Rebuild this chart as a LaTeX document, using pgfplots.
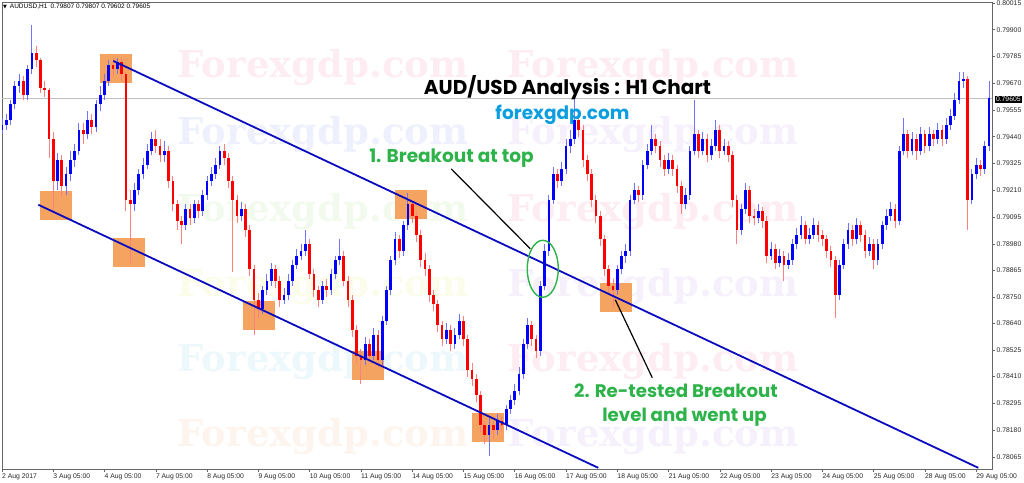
\documentclass[border=0pt]{standalone}
\usepackage{pgfplots}
\pgfplotsset{compat=1.18}
\usepackage{pgfplotstable}
\usepackage{fontspec}
\setmainfont{Liberation Sans}
\newfontfamily\popp{Poppins}
\newfontfamily\wm{DejaVu Serif}
\newfontfamily\dejavu{DejaVu Sans}
\definecolor{cblue}{RGB}{0,0,255}
\definecolor{cred}{RGB}{255,0,0}
\definecolor{tline}{RGB}{10,10,190}
\definecolor{boxc}{RGB}{244,164,96}
\definecolor{tgreen}{RGB}{45,179,74}
\definecolor{tcyan}{RGB}{12,158,222}
\definecolor{wpink}{RGB}{253,237,242}
\definecolor{wblue}{RGB}{238,241,253}
\definecolor{wgreen}{RGB}{242,250,237}
\definecolor{wyellow}{RGB}{252,252,235}
\definecolor{wcyan}{RGB}{236,248,252}
\definecolor{wpeach}{RGB}{253,244,237}
\definecolor{wlav}{RGB}{246,240,252}

\pgfplotstableread{
k o h l c
0 0.7947 0.7952 0.7945 0.7949
1 0.7949 0.7954 0.7947 0.7951
2 0.7951 0.7960 0.7949 0.7958
3 0.7958 0.7968 0.7956 0.7966
4 0.7966 0.7971 0.7963 0.7968
5 0.7968 0.7970 0.7960 0.7962
6 0.7962 0.7975 0.7960 0.7973
7 0.7973 0.7992 0.7971 0.7980
8 0.7980 0.7983 0.7974 0.7977
9 0.7977 0.7978 0.7963 0.7965
10 0.7965 0.7968 0.7961 0.7964
11 0.7964 0.7965 0.7935 0.7943
12 0.7943 0.7946 0.7912 0.7925
13 0.7925 0.7937 0.7921 0.7934
14 0.7934 0.7936 0.7918 0.7923
15 0.7923 0.7931 0.7919 0.7928
16 0.7928 0.7938 0.7925 0.7934
17 0.7934 0.7941 0.7931 0.7938
18 0.7938 0.7950 0.7936 0.7947
19 0.7947 0.7950 0.7941 0.7945
20 0.7945 0.7955 0.7943 0.7951
21 0.7951 0.7954 0.7945 0.7948
22 0.7948 0.7960 0.7946 0.7958
23 0.7958 0.7966 0.7955 0.7962
24 0.7962 0.7971 0.7960 0.7968
25 0.7968 0.7977 0.7966 0.7975
26 0.7975 0.7978 0.7970 0.7973
27 0.7973 0.7978 0.7971 0.7976
28 0.7976 0.7978 0.7968 0.7971
29 0.7971 0.7972 0.7912 0.7917
30 0.7917 0.7921 0.7890 0.7915
31 0.7915 0.7924 0.7912 0.7921
32 0.7921 0.7930 0.7919 0.7928
33 0.7928 0.7935 0.7926 0.7932
34 0.7932 0.7941 0.7930 0.7938
35 0.7938 0.7946 0.7936 0.7943
36 0.7943 0.7947 0.7937 0.7940
37 0.7940 0.7943 0.7933 0.7936
38 0.7936 0.7942 0.7933 0.7938
39 0.7938 0.7940 0.7922 0.7925
40 0.7925 0.7927 0.7912 0.7915
41 0.7915 0.7917 0.7904 0.7908
42 0.7908 0.7910 0.7898 0.7906
43 0.7906 0.7915 0.7904 0.7913
44 0.7913 0.7915 0.7906 0.7909
45 0.7909 0.7917 0.7907 0.7915
46 0.7915 0.7917 0.7909 0.7912
47 0.7912 0.7921 0.7910 0.7919
48 0.7919 0.7927 0.7917 0.7925
49 0.7925 0.7931 0.7923 0.7928
50 0.7928 0.7935 0.7926 0.7932
51 0.7932 0.7940 0.7930 0.7938
52 0.7938 0.7941 0.7932 0.7935
53 0.7935 0.7937 0.7922 0.7925
54 0.7925 0.7927 0.7886 0.7917
55 0.7917 0.7919 0.7907 0.7910
56 0.7910 0.7916 0.7908 0.7913
57 0.7913 0.7915 0.7901 0.7904
58 0.7904 0.7906 0.7884 0.7887
59 0.7887 0.7889 0.7859 0.7874
60 0.7874 0.7877 0.7866 0.7870
61 0.7870 0.7880 0.7868 0.7878
62 0.7878 0.7885 0.7876 0.7882
63 0.7882 0.7890 0.7880 0.7887
64 0.7887 0.7889 0.7879 0.7882
65 0.7882 0.7884 0.7871 0.7874
66 0.7874 0.7879 0.7872 0.7876
67 0.7876 0.7885 0.7874 0.7882
68 0.7882 0.7891 0.7880 0.7889
69 0.7889 0.7896 0.7887 0.7893
70 0.7893 0.7898 0.7891 0.7895
71 0.7895 0.7904 0.7893 0.7898
72 0.7898 0.7900 0.7883 0.7885
73 0.7885 0.7887 0.7875 0.7878
74 0.7878 0.7880 0.7871 0.7874
75 0.7874 0.7882 0.7872 0.7880
76 0.7880 0.7883 0.7875 0.7878
77 0.7878 0.7887 0.7876 0.7885
78 0.7885 0.7893 0.7883 0.7891
79 0.7891 0.7900 0.7889 0.7893
80 0.7893 0.7895 0.7880 0.7882
81 0.7882 0.7884 0.7871 0.7874
82 0.7874 0.7876 0.7858 0.7861
83 0.7861 0.7863 0.7847 0.7850
84 0.7850 0.7853 0.7838 0.7848
85 0.7848 0.7858 0.7846 0.7855
86 0.7855 0.7857 0.7847 0.7850
87 0.7850 0.7862 0.7848 0.7859
88 0.7859 0.7861 0.7845 0.7848
89 0.7848 0.7867 0.7846 0.7865
90 0.7865 0.7880 0.7863 0.7878
91 0.7878 0.7893 0.7876 0.7891
92 0.7891 0.7903 0.7889 0.7900
93 0.7900 0.7902 0.7892 0.7895
94 0.7895 0.7908 0.7893 0.7906
95 0.7906 0.7920 0.7904 0.7915
96 0.7915 0.7917 0.7907 0.7910
97 0.7910 0.7912 0.7899 0.7902
98 0.7902 0.7904 0.7888 0.7891
99 0.7891 0.7894 0.7884 0.7887
100 0.7887 0.7889 0.7873 0.7876
101 0.7876 0.7878 0.7869 0.7872
102 0.7872 0.7874 0.7860 0.7863
103 0.7863 0.7865 0.7854 0.7857
104 0.7857 0.7864 0.7855 0.7861
105 0.7861 0.7863 0.7852 0.7855
106 0.7855 0.7862 0.7853 0.7859
107 0.7859 0.7868 0.7857 0.7865
108 0.7865 0.7867 0.7854 0.7857
109 0.7857 0.7859 0.7841 0.7844
110 0.7844 0.7847 0.7837 0.7840
111 0.7840 0.7842 0.7830 0.7833
112 0.7833 0.7835 0.7817 0.7820
113 0.7820 0.7822 0.7812 0.7816
114 0.7816 0.7823 0.7807 0.7820
115 0.7820 0.7822 0.7814 0.7818
116 0.7818 0.7825 0.7816 0.7822
117 0.7822 0.7824 0.7817 0.7820
118 0.7820 0.7829 0.7818 0.7827
119 0.7827 0.7833 0.7825 0.7831
120 0.7831 0.7838 0.7829 0.7835
121 0.7835 0.7845 0.7833 0.7842
122 0.7842 0.7857 0.7840 0.7855
123 0.7855 0.7866 0.7853 0.7863
124 0.7863 0.7865 0.7854 0.7857
125 0.7857 0.7859 0.7849 0.7852
126 0.7852 0.7882 0.7850 0.7880
127 0.7880 0.7898 0.7878 0.7895
128 0.7895 0.7919 0.7893 0.7917
129 0.7917 0.7931 0.7915 0.7928
130 0.7928 0.7930 0.7922 0.7925
131 0.7925 0.7933 0.7923 0.7930
132 0.7930 0.7943 0.7928 0.7940
133 0.7940 0.7947 0.7937 0.7943
134 0.7943 0.7962 0.7941 0.7951
135 0.7951 0.7954 0.7944 0.7947
136 0.7947 0.7949 0.7931 0.7934
137 0.7934 0.7936 0.7925 0.7928
138 0.7928 0.7930 0.7914 0.7917
139 0.7917 0.7919 0.7907 0.7910
140 0.7910 0.7912 0.7897 0.7900
141 0.7900 0.7902 0.7884 0.7887
142 0.7887 0.7889 0.7877 0.7880
143 0.7880 0.7883 0.7871 0.7878
144 0.7878 0.7889 0.7876 0.7887
145 0.7887 0.7895 0.7885 0.7893
146 0.7893 0.7898 0.7890 0.7895
147 0.7895 0.7919 0.7893 0.7917
148 0.7917 0.7924 0.7915 0.7921
149 0.7921 0.7923 0.7916 0.7919
150 0.7919 0.7934 0.7917 0.7932
151 0.7932 0.7941 0.7930 0.7938
152 0.7938 0.7949 0.7936 0.7943
153 0.7943 0.7945 0.7937 0.7940
154 0.7940 0.7942 0.7931 0.7934
155 0.7934 0.7936 0.7927 0.7930
156 0.7930 0.7937 0.7928 0.7934
157 0.7934 0.7936 0.7927 0.7930
158 0.7930 0.7932 0.7920 0.7923
159 0.7923 0.7925 0.7911 0.7915
160 0.7915 0.7922 0.7913 0.7919
161 0.7919 0.7940 0.7917 0.7938
162 0.7938 0.7960 0.7936 0.7945
163 0.7945 0.7947 0.7935 0.7938
164 0.7938 0.7946 0.7936 0.7943
165 0.7943 0.7945 0.7933 0.7936
166 0.7936 0.7943 0.7934 0.7940
167 0.7940 0.7951 0.7938 0.7947
168 0.7947 0.7949 0.7935 0.7938
169 0.7938 0.7943 0.7936 0.7940
170 0.7940 0.7942 0.7933 0.7936
171 0.7936 0.7938 0.7914 0.7917
172 0.7917 0.7919 0.7898 0.7904
173 0.7904 0.7915 0.7902 0.7913
174 0.7913 0.7924 0.7911 0.7921
175 0.7921 0.7923 0.7907 0.7910
176 0.7910 0.7913 0.7906 0.7909
177 0.7909 0.7915 0.7907 0.7912
178 0.7912 0.7914 0.7905 0.7908
179 0.7908 0.7910 0.7890 0.7893
180 0.7893 0.7899 0.7891 0.7896
181 0.7896 0.7898 0.7887 0.7890
182 0.7890 0.7896 0.7888 0.7893
183 0.7893 0.7895 0.7882 0.7889
184 0.7889 0.7894 0.7887 0.7891
185 0.7891 0.7900 0.7889 0.7898
186 0.7898 0.7905 0.7896 0.7902
187 0.7902 0.7910 0.7900 0.7906
188 0.7906 0.7908 0.7898 0.7900
189 0.7900 0.7905 0.7898 0.7902
190 0.7902 0.7909 0.7900 0.7906
191 0.7906 0.7908 0.7899 0.7902
192 0.7902 0.7904 0.7897 0.7900
193 0.7900 0.7902 0.7892 0.7895
194 0.7895 0.7897 0.7888 0.7891
195 0.7891 0.7893 0.7866 0.7876
196 0.7876 0.7891 0.7874 0.7889
197 0.7889 0.7900 0.7887 0.7898
198 0.7898 0.7907 0.7896 0.7904
199 0.7904 0.7906 0.7897 0.7900
200 0.7900 0.7909 0.7898 0.7906
201 0.7906 0.7908 0.7899 0.7902
202 0.7902 0.7904 0.7892 0.7895
203 0.7895 0.7901 0.7893 0.7898
204 0.7898 0.7900 0.7887 0.7891
205 0.7891 0.7900 0.7889 0.7898
206 0.7898 0.7908 0.7896 0.7906
207 0.7906 0.7913 0.7904 0.7910
208 0.7910 0.7916 0.7908 0.7913
209 0.7913 0.7915 0.7905 0.7908
210 0.7908 0.7940 0.7906 0.7938
211 0.7938 0.7952 0.7936 0.7945
212 0.7945 0.7947 0.7935 0.7938
213 0.7938 0.7946 0.7936 0.7943
214 0.7943 0.7945 0.7934 0.7938
215 0.7938 0.7948 0.7936 0.7945
216 0.7945 0.7947 0.7937 0.7940
217 0.7940 0.7948 0.7938 0.7945
218 0.7945 0.7947 0.7940 0.7943
219 0.7943 0.7950 0.7941 0.7947
220 0.7947 0.7949 0.7940 0.7943
221 0.7943 0.7952 0.7941 0.7949
222 0.7949 0.7956 0.7947 0.7953
223 0.7953 0.7963 0.7951 0.7960
224 0.7960 0.7972 0.7958 0.7968
225 0.7968 0.7972 0.7965 0.7969
226 0.7969 0.7970 0.7904 0.7917
227 0.7917 0.7930 0.7915 0.7928
228 0.7928 0.7935 0.7926 0.7932
229 0.7932 0.7934 0.7927 0.7930
230 0.7930 0.7942 0.7928 0.7940
231 0.7940 0.7968 0.7938 0.79605
}\candles

\begin{document}
\begin{tikzpicture}[x=1pt,y=1pt]
\useasboundingbox (0,0) rectangle (1024,482);
% watermarks (behind everything)
\begin{scope}[every node/.style={font=\wm\bfseries\fontsize{37}{40}\selectfont, inner sep=0pt}]
\node[text=wpink]   at (323,414) {Forexgdp.com};
\node[text=wpink]   at (653,414) {Forexgdp.com};
\node[text=wblue]   at (323,347) {Forexgdp.com};
\node[text=wlav]    at (653,347) {Forexgdp.com};
\node[text=wgreen]  at (323,270) {Forexgdp.com};
\node[text=wpink]   at (653,270) {Forexgdp.com};
\node[text=wyellow] at (323,195) {Forexgdp.com};
\node[text=wlav]    at (653,195) {Forexgdp.com};
\node[text=wcyan]   at (323,120) {Forexgdp.com};
\node[text=wpink]   at (653,120) {Forexgdp.com};
\node[text=wpeach]  at (323,45) {Forexgdp.com};
\node[text=wlav]    at (653,45) {Forexgdp.com};
\end{scope}
\begin{axis}[
  at={(2pt,13pt)}, anchor=south west, scale only axis,
  width=990pt, height=467pt,
  xmin=0, xmax=231.7, ymin=0.78013, ymax=0.80019,
  axis line style={draw=black!60, line width=0.8pt},
  xtick={0,12,...,228},
  xticklabels={2 Aug 2017,3 Aug 05:00,4 Aug 05:00,7 Aug 05:00,8 Aug 05:00,9 Aug 05:00,10 Aug 05:00,11 Aug 05:00,14 Aug 05:00,15 Aug 05:00,16 Aug 05:00,17 Aug 05:00,18 Aug 05:00,21 Aug 05:00,22 Aug 05:00,23 Aug 05:00,24 Aug 05:00,25 Aug 05:00,28 Aug 05:00,29 Aug 05:00},
  ytick={0.78065,0.78180,0.78295,0.78410,0.78525,0.78640,0.78750,0.78865,0.78980,0.79095,0.79210,0.79325,0.79440,0.79555,0.79670,0.79785,0.79900,0.80015},
  yticklabels={0.78065,0.78180,0.78295,0.78410,0.78525,0.78640,0.78750,0.78865,0.78980,0.79095,0.79210,0.79325,0.79440,0.79555,0.79670,0.79785,0.79900,0.80015},
  xtick pos=left, ytick pos=right, yticklabel pos=right,
  tick align=outside, major tick length=3pt,
  tick style={draw=black!60, line width=0.6pt},
  xticklabel style={anchor=north west, font=\fontsize{6.8}{8}\selectfont, text=black!85, inner sep=1pt, xshift=-1pt, yshift=-0.5pt},
  yticklabel style={anchor=west, font=\fontsize{6.8}{8}\selectfont, text=black!85, inner sep=1pt, xshift=0.5pt},
]
% orange boxes
\fill[boxc] (axis cs:23.0,0.79796) rectangle (axis cs:30.5,0.79672);
\fill[boxc] (axis cs:8.96,0.79208) rectangle (axis cs:16.45,0.79083);
\fill[boxc] (axis cs:26.05,0.79006) rectangle (axis cs:33.54,0.78881);
\fill[boxc] (axis cs:56.47,0.78735) rectangle (axis cs:63.96,0.78611);
\fill[boxc] (axis cs:81.98,0.78520) rectangle (axis cs:89.47,0.78396);
\fill[boxc] (axis cs:92.04,0.79212) rectangle (axis cs:99.53,0.79087);
\fill[boxc] (axis cs:110.06,0.78254) rectangle (axis cs:117.55,0.78130);
\fill[boxc] (axis cs:140.0,0.78813) rectangle (axis cs:147.5,0.78688);
% current price line
\draw[black!25, line width=0.9pt] (axis cs:0,0.79605) -- (axis cs:231.7,0.79605);
% wicks
\addplot[draw=none, mark=none, forget plot,
  error bars/.cd, y dir=plus, y explicit, error mark=none,
  error bar style={draw=cblue!55, line width=0.9pt}]
  table[x=k, y expr={\thisrow{c}>=\thisrow{o} ? \thisrow{l} : nan},
        y error plus expr={\thisrow{h}-\thisrow{l}}] {\candles};
\addplot[draw=none, mark=none, forget plot,
  error bars/.cd, y dir=plus, y explicit, error mark=none,
  error bar style={draw=cred!50, line width=0.9pt}]
  table[x=k, y expr={\thisrow{c}<\thisrow{o} ? \thisrow{l} : nan},
        y error plus expr={\thisrow{h}-\thisrow{l}}] {\candles};
% bodies
\addplot[draw=none, mark=none, forget plot,
  error bars/.cd, y dir=plus, y explicit, error mark=none,
  error bar style={draw=cblue, line width=2.7pt}]
  table[x=k, y expr={\thisrow{c}>=\thisrow{o} ? \thisrow{o} : nan},
        y error plus expr={\thisrow{c}-\thisrow{o}}] {\candles};
\addplot[draw=none, mark=none, forget plot,
  error bars/.cd, y dir=plus, y explicit, error mark=none,
  error bar style={draw=cred, line width=2.7pt}]
  table[x=k, y expr={\thisrow{c}<\thisrow{o} ? \thisrow{c} : nan},
        y error plus expr={\thisrow{o}-\thisrow{c}}] {\candles};
% trend lines
\draw[tline, line width=1.8pt] (axis cs:26.05,0.79766) -- (axis cs:228.5,0.78018);
\draw[tline, line width=1.8pt] (axis cs:8.50,0.79148) -- (axis cs:139.55,0.78018);
% ellipse and pointer lines
\draw[tgreen, line width=1.4pt] (axis cs:126.56,0.78873) ellipse [x radius=15.5pt, y radius=28.5pt];
\draw[black, line width=1.2pt] (axis cs:105.15,0.79302) -- (axis cs:123.64,0.78959);
\draw[black, line width=1.2pt] (axis cs:143.53,0.78740) -- (axis cs:152.19,0.78405);
\end{axis}
% header
\node[anchor=west, font=\fontsize{6.5}{8}\selectfont, inner sep=0pt] at (3,475.5) {{\dejavu\fontsize{5}{6}\selectfont ▼}\, AUDUSD,H1\enspace 0.79807 0.79807 0.79602 0.79605};
% current price label
\node[anchor=west, fill=black, text=white, font=\fontsize{6.8}{8}\selectfont, inner sep=1.3pt] at (994.5,382.5) {0.79605};
% titles
\begin{scope}[every node/.style={inner sep=0pt, anchor=base}]
\node[font=\popp\bfseries\fontsize{20}{22}\selectfont] at (567.5,387) {AUD/USD Analysis : H1 Chart};
\node[text=tcyan, font=\popp\bfseries\fontsize{18.5}{22}\selectfont] at (562.5,362) {forexgdp.com};
\node[text=tgreen, font=\popp\bfseries\fontsize{18.5}{22}\selectfont] at (451.5,319) {1. Breakout at top};
\node[text=tgreen, font=\popp\bfseries\fontsize{18.2}{22}\selectfont] at (676,85) {2. Re-tested Breakout};
\node[text=tgreen, font=\popp\bfseries\fontsize{18.2}{22}\selectfont] at (684.5,61) {level and went up};
\end{scope}
\end{tikzpicture}
\end{document}
